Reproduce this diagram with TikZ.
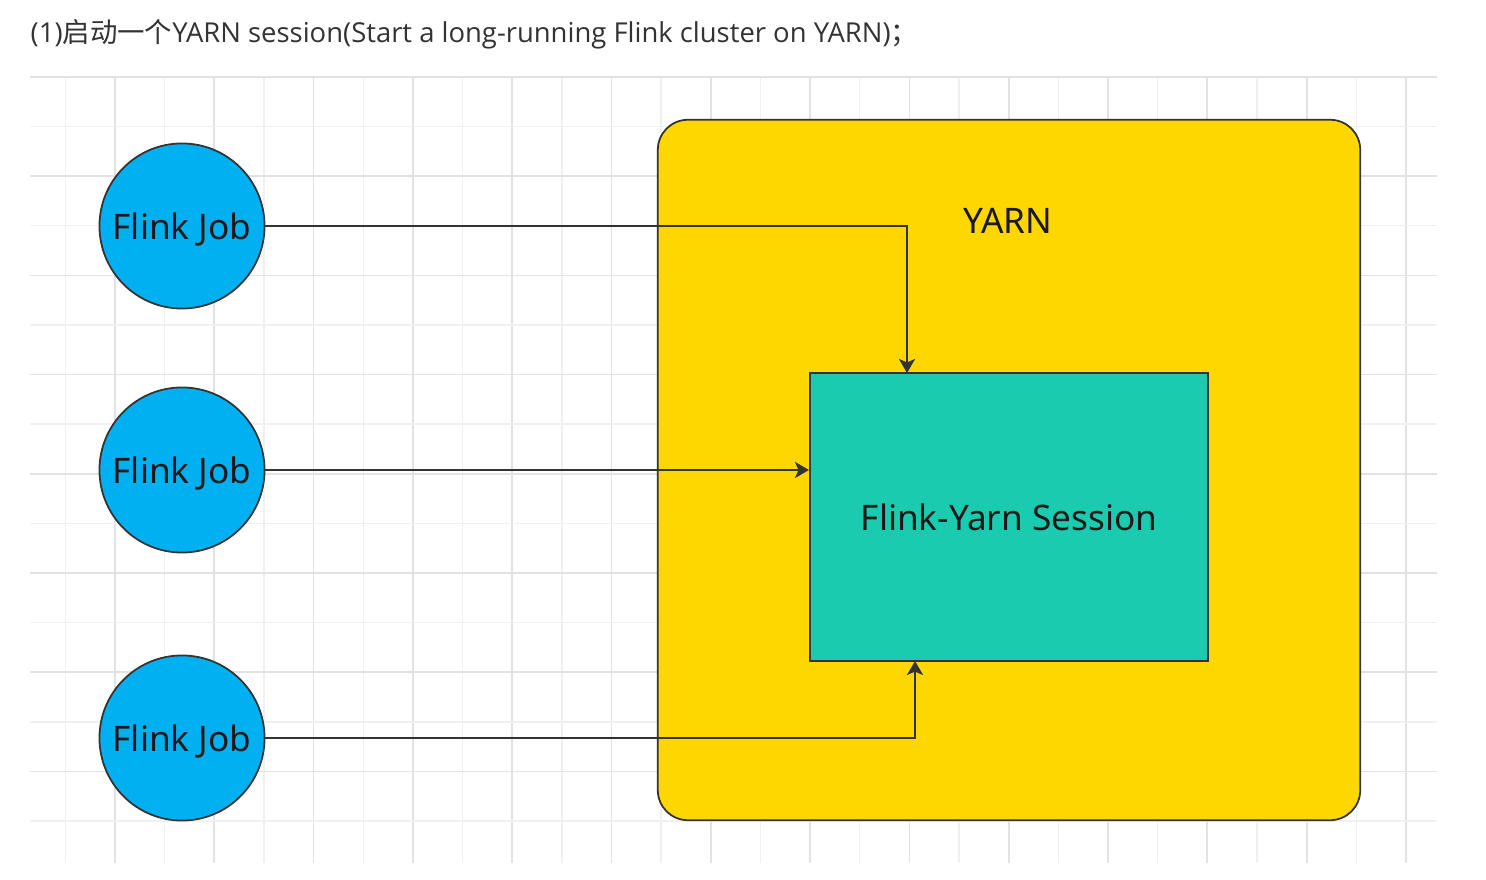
\documentclass[tikz,border=0pt]{standalone}
\usepackage{fontspec}
\setmainfont{Open Sans}
\newfontfamily\cjk{Noto Sans CJK SC}
\newfontfamily\labelfont{Noto Sans}
\usetikzlibrary{arrows.meta}
\definecolor{jobblue}{RGB}{0,176,240}
\definecolor{yarnyellow}{RGB}{255,215,0}
\definecolor{sessiongreen}{RGB}{27,203,176}
\definecolor{edgegrey}{RGB}{51,51,51}
\definecolor{textgrey}{RGB}{51,51,51}
\definecolor{gridmajor}{RGB}{226,226,226}
\definecolor{gridminor}{RGB}{240,240,240}

\begin{document}
\begin{tikzpicture}[x=0.01cm, y=-0.01cm,
    labeltext/.style={font=\labelfont\fontsize{10}{12}\selectfont, text=black!90},
    job/.style={circle, draw=edgegrey, fill=jobblue, line width=0.5pt,
        minimum size=1.65cm, inner sep=0pt, text depth=0pt, labeltext},
    yarnbox/.style={rectangle, rounded corners=0.3cm, draw=edgegrey, fill=yarnyellow,
        line width=0.5pt, minimum width=7.02cm, minimum height=7cm},
    sessionbox/.style={rectangle, draw=edgegrey, fill=sessiongreen, line width=0.5pt,
        minimum width=3.98cm, minimum height=2.88cm, labeltext},
    link/.style={draw=edgegrey, line width=0.45pt,
        -{Stealth[length=4pt, width=4.6pt, inset=1pt]}}]

    \useasboundingbox (0,0) rectangle (1486,880);

    % grid
    \foreach \i [evaluate=\i as \x using 115+49.65*\i] in {-1,...,26} {
        \ifodd\i \draw [gridminor, line width=0.4pt] (\x,77) -- (\x,863);
        \else \draw [gridmajor, line width=0.5pt] (\x,77) -- (\x,863); \fi
    }
    \foreach \j [evaluate=\j as \y using 126.6+49.6*\j] in {0,...,14} {
        \ifodd\j \draw [gridmajor, line width=0.5pt] (30,\y) -- (1437,\y);
        \else \draw [gridminor, line width=0.4pt] (30,\y) -- (1437,\y); \fi
    }
    \draw [gridmajor, line width=0.5pt] (30,77) -- (1437,77);

    \node [anchor=base west, inner sep=0pt, text=textgrey,
        font=\fontsize{7.8}{9}\selectfont] (title) at (30,43)
        {(1){\cjk 启动一个}YARN session(Start a long-running Flink cluster on YARN){\cjk ；}};

    \node [yarnbox] (yarn) at (1009,470) {};
    \node [labeltext] (yarnlabel) at (1008,221) {YARN};
    \node [sessionbox] (sess) at (1009,517) {Flink-Yarn Session};

    \node [job] (a) at (182,226) {Flink Job};
    \node [job] (b) at (182,470) {Flink Job};
    \node [job] (c) at (182,738) {Flink Job};

    \coordinate (sa) at (907,373);
    \coordinate (sc) at (915,661);

    \draw [link] (a) -| (sa);
    \draw [link] (b) -- (b -| sess.west);
    \draw [link] (c) -| (sc);

\end{tikzpicture}
\end{document}
